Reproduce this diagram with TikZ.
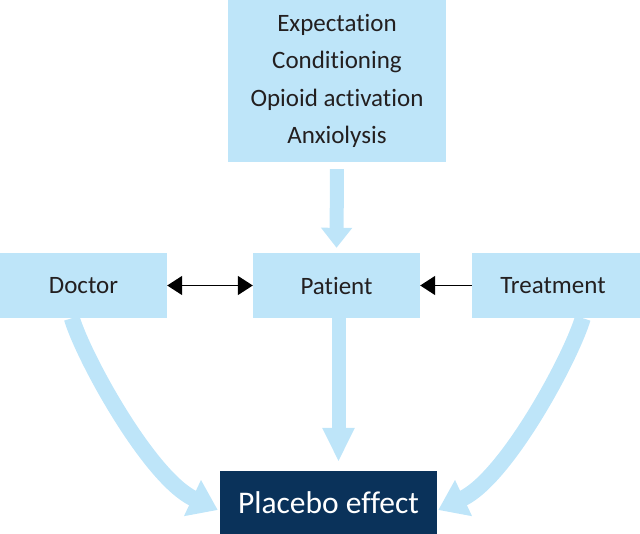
\documentclass[tikz,border=0pt]{standalone}
\usepackage{fontspec}
\setmainfont{Carlito}[Ligatures={NoCommon}]
\usetikzlibrary{arrows.meta,calc}
\definecolor{lb}{HTML}{BEE5F9}
\definecolor{navy}{HTML}{0A325A}
\definecolor{txt}{HTML}{231F20}
\begin{document}
\begin{tikzpicture}[x=1pt,y=-1pt,
  box/.style={fill=lb,draw=none,inner sep=0pt,text=txt,font=\fontsize{25}{37.5}\selectfont,align=center},
  fat/.style={draw=lb,line width=14pt},
  curvy/.style={draw=lb,line width=16pt,-{Triangle[length=28pt,width=38pt]}},
  thin/.style={draw=black,line width=1.6pt},
  thintip/.tip={Triangle[length=15pt,width=19pt]}]
\useasboundingbox (0,0) rectangle (640,534);
\node[box,minimum width=218pt,minimum height=162pt] (mech) at (337,81)
  {Expectation\\Conditioning\\Opioid activation\\Anxiolysis};
\node[box,minimum width=167pt,minimum height=65pt] (patient) at (336.5,285.5) {Patient};
\node[box,minimum width=167pt,minimum height=65pt] (doctor) at (83.5,285.5) {Doctor};
\node[box,minimum width=168pt,minimum height=65pt] (treat) at (556,285.5) {Treatment\hspace*{6pt}};
\node[fill=navy,inner sep=0pt,minimum width=217pt,minimum height=63pt,text=white,
  font=\fontsize{31.5}{36}\selectfont] (placebo) at (328.5,502.5) {Placebo effect};
% vertical fat arrows
\draw[fat,-{Triangle[length=20pt,width=30pt]},shorten <=7pt,shorten >=5pt] (mech.south) -- (patient.north);
\draw[fat,-{Triangle[length=34pt,width=30pt]},shorten >=9pt] ([xshift=2pt]patient.south) -- ([xshift=2pt]patient.south |- placebo.north);
% curved arrows
\coordinate (ds) at ($(doctor.south west)+(72,0)$);
\coordinate (dt) at ($(placebo.west)+(-2,7.5)$);
\coordinate (ts) at ($(treat.south west)+(111,0)$);
\coordinate (tt) at ($(placebo.east)+(1,7.5)$);
\draw[curvy] (ds) .. controls ($(ds)+(12,40)$) and ($(dt)+(-68,-32)$) .. (dt);
\draw[curvy] (ts) .. controls ($(ts)+(-12,40)$) and ($(tt)+(68,-32)$) .. (tt);
% thin arrows
\draw[thin,thintip-thintip] (doctor.east) -- (patient.west);
\draw[thin,-thintip] (treat.west) -- (patient.east);
\end{tikzpicture}
\end{document}
